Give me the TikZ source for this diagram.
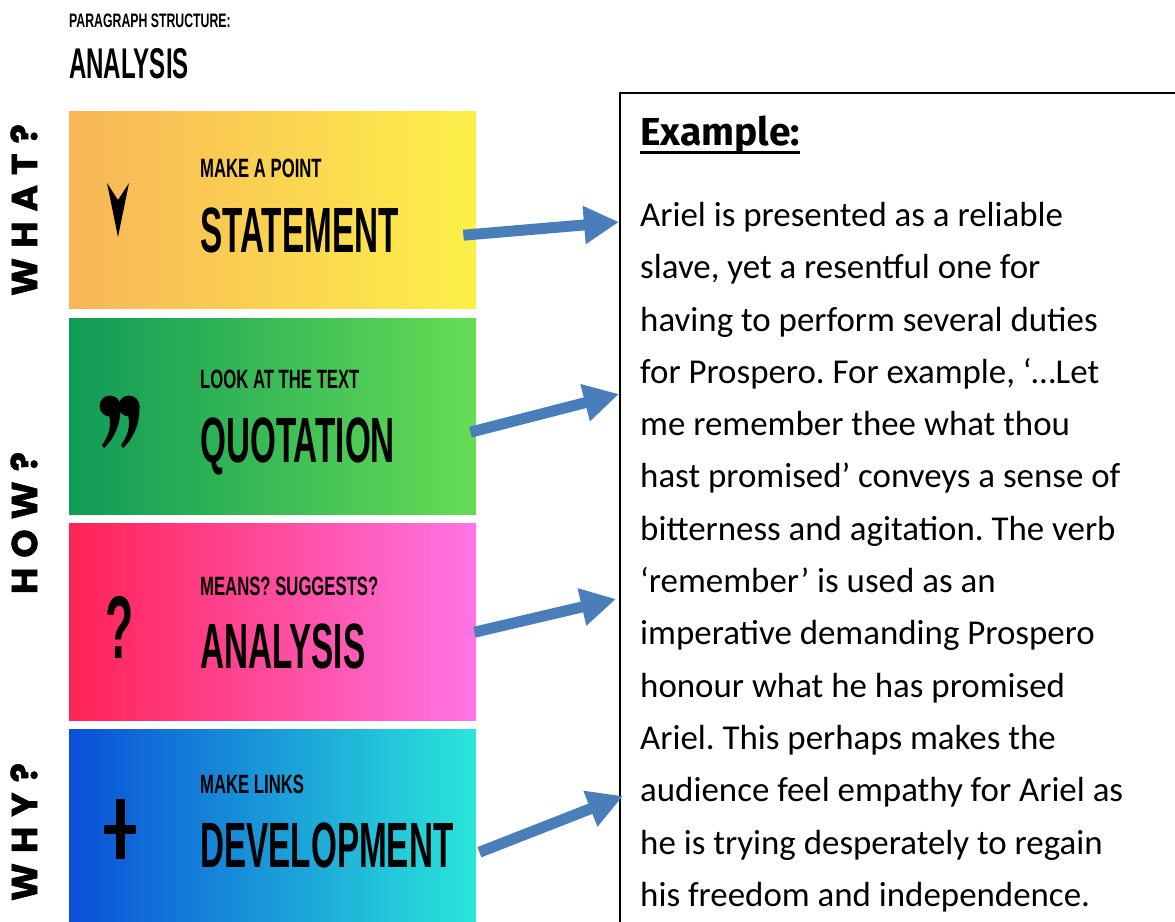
\documentclass[tikz,border=0pt]{standalone}
\usepackage{fontspec}
\setmainfont{Carlito}
\newfontfamily\headfont[FakeStretch=0.63]{Liberation Sans}
\newfontfamily\titlefont[FakeStretch=0.56]{Liberation Sans}
\newfontfamily\wordfont[FakeStretch=0.52]{Liberation Sans}
\newfontfamily\sidefont[LetterSpace=28,FakeBold=1.5]{Poppins}
\newfontfamily\exfont{Fira Sans}
\usetikzlibrary{arrows.meta,fit}
\frenchspacing

\definecolor{orangeL}{HTML}{F8B558}
\definecolor{yellowR}{HTML}{FDF04A}
\definecolor{greenL}{HTML}{0F9A57}
\definecolor{greenR}{HTML}{66DD55}
\definecolor{pinkL}{HTML}{FF2255}
\definecolor{pinkR}{HTML}{FF75E5}
\definecolor{blueL}{HTML}{0A4FD8}
\definecolor{blueR}{HTML}{2AE6DA}
\definecolor{arrowblue}{HTML}{4A7EBB}

\begin{document}
\begin{tikzpicture}[x=1pt,y=-1pt]
    \useasboundingbox (0,0) rectangle (1175,921);

    % heading
    \node[anchor=base west,inner sep=0pt,font=\headfont\bfseries\fontsize{19.5}{19.5}\selectfont] (title) at (69,27) {PARAGRAPH STRUCTURE:};
    \node[anchor=base west,inner sep=0pt,font=\titlefont\bfseries\fontsize{43}{43}\selectfont] (subtitle) at (69,78) {ANALYSIS};

    % coloured bands
    \begin{scope}[every node/.style={anchor=north west,inner sep=0pt,minimum width=407pt}]
      \node[left color=orangeL,right color=yellowR,minimum height=197pt] (statement) at (69,111) {};
      \node[left color=greenL,right color=greenR,minimum height=196pt] (quotation) at (69,318) {};
      \node[left color=pinkL,right color=pinkR,minimum height=197pt] (analysis) at (69,523) {};
      \node[left color=blueL,right color=blueR,minimum height=200pt] (development) at (69,729) {};
    \end{scope}

    % band texts
    \begin{scope}[every node/.style={anchor=base west,inner sep=0pt,font=\headfont\bfseries\fontsize{26.5}{26.5}\selectfont}]
      \node (s1) at (200,177) {MAKE A POINT};
      \node (s2) at (200,388) {LOOK AT THE TEXT};
      \node (s3) at (200,595) {MEANS? SUGGESTS?};
      \node (s4) at (200,793) {MAKE LINKS};
    \end{scope}
    \begin{scope}[every node/.style={anchor=base west,inner sep=0pt,font=\wordfont\bfseries\fontsize{64}{64}\selectfont}]
      \node (w1) at (200,252) {STATEMENT};
      \node (w2) at (200,462) {QUOTATION};
      \node (w3) at (200,668) {ANALYSIS};
      \node (w4) at (200,867) {DEVELOPMENT};
    \end{scope}

    % icons
    \fill (107,183) -- (118,200) -- (129,183) -- (118,237) -- cycle;
    \foreach \hx in {110,129}{
      \fill (\hx,406) circle (10.5);
      \fill (\hx+10.5,406) .. controls (\hx+11,426) and (\hx+3,440) .. (\hx-6,448)
        -- (\hx-8,445) .. controls (\hx-2,437) and (\hx+2,427) .. (\hx-1,415) -- cycle;
    }
    \node[inner sep=0pt,font=\wordfont\bfseries\fontsize{89}{89}\selectfont] (qmark) at (120,627) {?};
    \draw[line width=9pt] (120,799) -- (120,859) (104,829) -- (136,829);

    % side labels
    \begin{scope}[every node/.style={rotate=90,inner sep=0pt,font=\sidefont\bfseries\fontsize{36}{36}\selectfont}]
      \node (what) at (24,210) {WHAT?};
      \node (how) at (24,523) {HOW?};
      \node (why) at (24,832) {WHY?};
    \end{scope}

    % example box
    \node[draw,line width=2pt,inner sep=0pt,fit={(620,93) (1190,940)}] (exbox) {};
    \node[anchor=base west,inner sep=0pt,font=\exfont\bfseries\fontsize{39}{39}\selectfont] (exhead) at (640,145) {Example:};
    \draw[line width=3pt] ([shift={(0,7)}]exhead.base west) -- ([shift={(0,7)}]exhead.base east);
    \node[anchor=north west,align=left,inner sep=0pt,font=\fontsize{34.9}{52.3}\selectfont] (exbody) at (640,202) {%
      Ariel is presented as a reliable\\
      slave, yet a resentful one for\\
      having to perform several duties\\
      for Prospero. For example, ‘…Let\\
      me remember thee what thou\\
      hast promised’ conveys a sense of\\
      bitterness and agitation. The verb\\
      ‘remember’ is used as an\\
      imperative demanding Prospero\\
      honour what he has promised\\
      Ariel. This perhaps makes the\\
      audience feel empathy for Ariel as\\
      he is trying desperately to regain\\
      his freedom and independence.};

    % arrows
    \begin{scope}[every edge/.style={draw=arrowblue,line width=11pt,-{Triangle[length=35pt,width=36pt]}}]
      \path ([shift={(-13,25.5)}]statement.east) edge ([shift={(0,130)}]exbox.north west);
      \path ([shift={(-6,16)}]quotation.east) edge ([shift={(0,302)}]exbox.north west);
      \path ([shift={(-2,10.5)}]analysis.east) edge ([shift={(-3,507)}]exbox.north west);
      \path ([shift={(3,23)}]development.east) edge ([shift={(4,704)}]exbox.north west);
    \end{scope}
\end{tikzpicture}
\end{document}
